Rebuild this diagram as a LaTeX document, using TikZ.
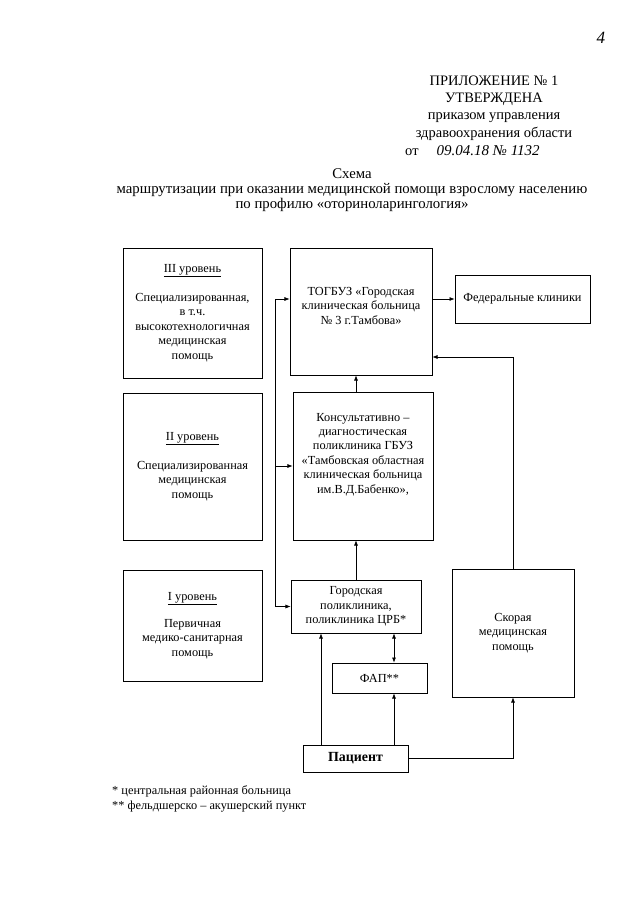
\documentclass[tikz,border=0pt]{standalone}
\usepackage{fontspec}
\setmainfont{Liberation Serif}
\usetikzlibrary{arrows.meta}

\def\pxl{0.3281mm}
\tikzset{
    blok/.style={draw, line width=0.6pt, inner sep=0pt, align=center,
        font=\fontsize{11.5}{13.5}\selectfont},
    txt/.style={inner sep=0pt, align=center, font=\fontsize{11.5}{13.5}\selectfont},
    arr/.style={line width=0.6pt, -{Latex[length=1.7mm,width=1.3mm]}},
    arrs/.style={line width=0.6pt, {Latex[length=1.7mm,width=1.3mm]}-{Latex[length=1.7mm,width=1.3mm]}},
    lin/.style={line width=0.6pt}
}

\begin{document}
\begin{tikzpicture}[x=\pxl, y=-\pxl]
\useasboundingbox (0,0) rectangle (640,905);

% header
\node[inner sep=0pt, font=\itshape\fontsize{16}{16}\selectfont] (pagenum) at (601,38) {4};
\node[inner sep=0pt, align=center, font=\fontsize{13.5}{16.1}\selectfont] (hdr) at (494,108)
    {ПРИЛОЖЕНИЕ № 1\\УТВЕРЖДЕНА\\приказом управления\\здравоохранения области};
\node[inner sep=0pt, anchor=west, font=\fontsize{13.5}{16.1}\selectfont] (hdrdate) at (405,151)
    {от \quad{\itshape\fontsize{14}{14}\selectfont 09.04.18 № 1132}};

% title
\node[inner sep=0pt, align=center, font=\fontsize{13.8}{13.7}\selectfont] (title) at (352,190)
    {Схема\\маршрутизации при оказании медицинской помощи взрослому населению\\по профилю «оториноларингология»};

% levels
\node[blok, minimum width=139*\pxl, minimum height=130*\pxl] (lvl3) at (192.5,313)
    {\underline{III уровень}\\[13.5pt]Специализированная,\\в т.ч.\\высокотехнологичная\\медицинская\\помощь};
\node[blok, minimum width=139*\pxl, minimum height=147*\pxl] (lvl2) at (192.5,466.5)
    {\underline{II уровень}\\[13.5pt]Специализированная\\медицинская\\помощь};
\node[blok, minimum width=139*\pxl, minimum height=111*\pxl] (lvl1) at (192.5,625.5)
    {\underline{I уровень}\\[12pt]Первичная\\медико-санитарная\\помощь};

% institutions
\node[blok, minimum width=142*\pxl, minimum height=127*\pxl] (togbuz) at (361,311.5) {};
\node[txt] (togbuztxt) at (361,306)
    {ТОГБУЗ «Городская\\клиническая больница\\№ 3 г.Тамбова»};
\node[blok, minimum width=135*\pxl, minimum height=48*\pxl] (federal) at (522.5,299)
    {Федеральные клиники};
\node[blok, minimum width=140*\pxl, minimum height=148*\pxl] (konsult) at (363,466) {};
\node[txt] (konsulttxt) at (363,454.5)
    {Консультативно --\\диагностическая\\поликлиника ГБУЗ\\«Тамбовская областная\\клиническая больница\\им.В.Д.Бабенко»,};
\node[blok, minimum width=130*\pxl, minimum height=53*\pxl] (gorod) at (356,606.5)
    {Городская\\поликлиника,\\поликлиника ЦРБ*};
\node[blok, minimum width=95*\pxl, minimum height=30*\pxl] (fap) at (379.5,678)
    {ФАП**};
\node[blok, minimum width=122*\pxl, minimum height=128*\pxl] (skoraya) at (513,633)
    {Скорая\\медицинская\\помощь};
\node[blok, minimum width=105*\pxl, minimum height=27*\pxl, font=\bfseries\fontsize{13}{14}\selectfont] (patient) at (355.5,758.5)
    {Пациент};

% connectors
\coordinate (bus) at (275,0);
\coordinate (back) at (0,357);
\coordinate (pl) at (321,0);
\coordinate (pr) at (394,0);

\draw[lin] (bus |- federal.west) -- (bus |- gorod.west);
\draw[arr] (bus |- federal.west) -- (togbuz.west |- federal.west);
\draw[arr] (bus |- konsult.west) -- (konsult.west);
\draw[arr] (bus |- gorod.west) -- (gorod.west);
\draw[arr] (togbuz.east |- federal.west) -- (federal.west);
\draw[arr] (konsult.north -| gorod.north) -- (togbuz.south -| gorod.north);
\draw[arr] (gorod.north) -- (gorod.north |- konsult.south);
\draw[arr] (skoraya.north) |- (togbuz.east |- back);
\draw[arr] (pl |- patient.north) -- (pl |- gorod.south);
\draw[arr] (pr |- patient.north) -- (pr |- fap.south);
\draw[arrs] (pr |- gorod.south) -- (pr |- fap.north);
\draw[arr] (patient.east) -| (skoraya.south);

% notes
\node[inner sep=0pt, anchor=west, align=left, font=\fontsize{11.5}{14}\selectfont] (notes) at (112,798.5)
    {* центральная районная больница\\** фельдшерско -- акушерский пункт};

\end{tikzpicture}
\end{document}
